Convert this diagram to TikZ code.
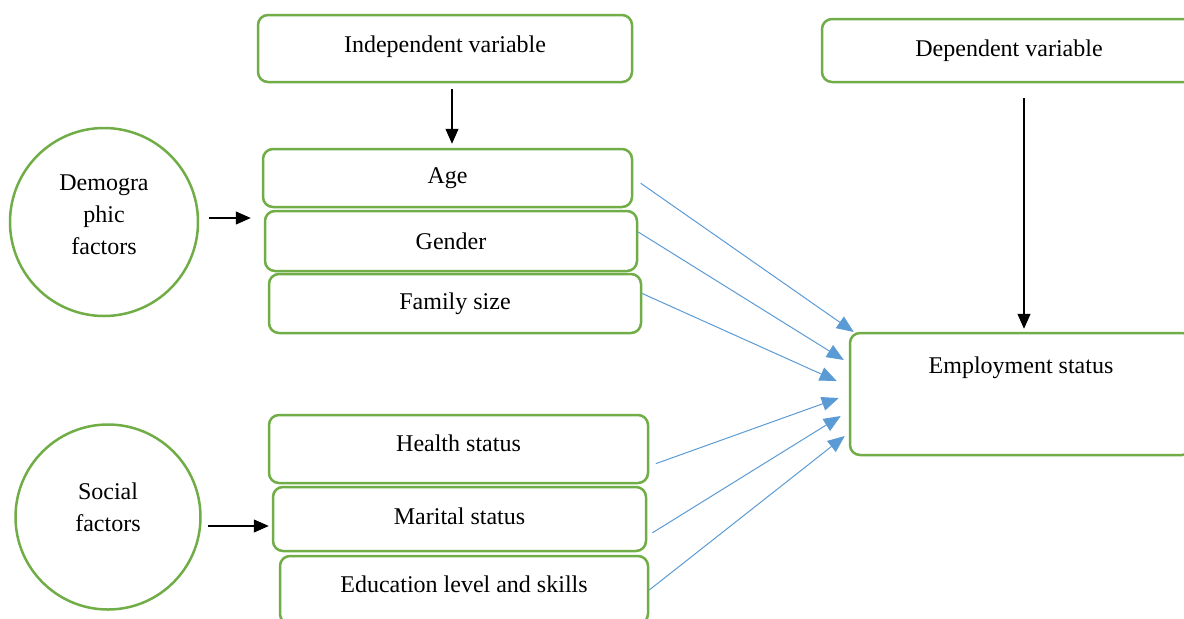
\documentclass[tikz,border=0pt]{standalone}
\usepackage{fontspec}
\setmainfont{Liberation Serif}
\usetikzlibrary{arrows.meta, positioning}
\definecolor{boxgreen}{RGB}{112,173,71}
\definecolor{arrblue}{RGB}{91,155,213}

\begin{document}
\begin{tikzpicture}[x=0.5pt, y=-0.5pt,
        font=\fontsize{12}{16}\selectfont,
        box/.style={draw=boxgreen, line width=1.25pt, rounded corners=5pt, inner sep=0pt},
        circ/.style={circle, draw=boxgreen, line width=1.25pt, inner sep=0pt},
        blk/.style={-{Triangle[length=7.5pt,width=6.5pt]}, line width=0.6pt},
        blu/.style={-{Triangle[length=8.5pt,width=7pt]}, draw=arrblue, line width=0.5pt}]
        \useasboundingbox (0,0) rectangle (1184,618);
        \clip (0,0) rectangle (1184,618);
        % top boxes
        \node[box, minimum width=187pt, minimum height=33.5pt, text depth=4.6pt] (indep) at (445,48.5) {Independent variable};
        \node[box, minimum width=187pt, minimum height=31.5pt] (dep) at (1009,50.5) {Dependent variable};
        % demographic factors
        \node[circ, minimum size=94pt,
              label={[anchor=center, align=center, yshift=3.5pt]center:Demogra\\phic\\factors}] (demog) at (104,222) {};
        \node[box, minimum width=184.5pt, minimum height=29pt] (age) at (447.5,178) {Age};
        \node[box, minimum width=186pt, minimum height=30pt] (gender) at (451,241) {Gender};
        \node[box, minimum width=186pt, minimum height=29.5pt] (family) at (455,303.5) {Family size};
        % social factors
        \node[circ, minimum size=92.5pt,
              label={[anchor=center, align=center, yshift=5pt]center:Social\\factors}] (social) at (108,517) {};
        \node[box, minimum width=189.5pt, minimum height=34pt, text depth=6pt] (health) at (458.5,449) {Health status};
        \node[box, minimum width=186.5pt, minimum height=32pt, text depth=3pt] (marital) at (459.5,519) {Marital status};
        \node[box, minimum width=184pt, minimum height=34pt, text depth=6pt] (educ) at (464,590) {Education level and skills};
        % outcome
        \node[box, minimum width=171pt, minimum height=61pt,
              label={[anchor=center, yshift=-18pt, inner sep=0pt]north:Employment status}] (emp) at (1021,394) {};

        \path (emp.west) ++(5,-62) coordinate (t1);
        \path (emp.west) ++(-5,-34) coordinate (t2);
        \path (emp.west) ++(-12,-13) coordinate (t3);
        \path (emp.west) ++(-10,4) coordinate (t4);
        \path (emp.west) ++(-8,22) coordinate (t5);
        \path (emp.west) ++(-4,42) coordinate (t6);

        \draw[blk, shorten <=3pt, shorten >=2pt] ([xshift=3.5pt]indep.south) -- ([xshift=2.25pt]age.north);
        \draw[blk, shorten <=7.5pt, shorten >=1.5pt] ([xshift=7.5pt]dep.south) -- ([xshift=1.5pt]emp.north);
        \draw[blk, shorten <=5pt, shorten >=6.5pt] ([yshift=2pt]demog.east) -- ([yshift=11.5pt]gender.west);
        \draw[blk, shorten <=3pt, shorten >=1.5pt] ([yshift=-4.5pt]social.east) -- ([yshift=-3.5pt]marital.west);

        \draw[blu, shorten <=4.5pt] (age.east) -- (t1);
        \draw[blu] ([yshift=4.5pt]gender.east) -- (t2);
        \draw[blu] ([yshift=5pt]family.east) -- (t3);
        \draw[blu, shorten <=3.5pt] ([yshift=-8.5pt]health.east) -- (t4);
        \draw[blu, shorten <=3pt] ([yshift=-8.5pt]marital.east) -- (t5);
        \draw[blu] (educ.east) -- (t6);
    \end{tikzpicture}
\end{document}
